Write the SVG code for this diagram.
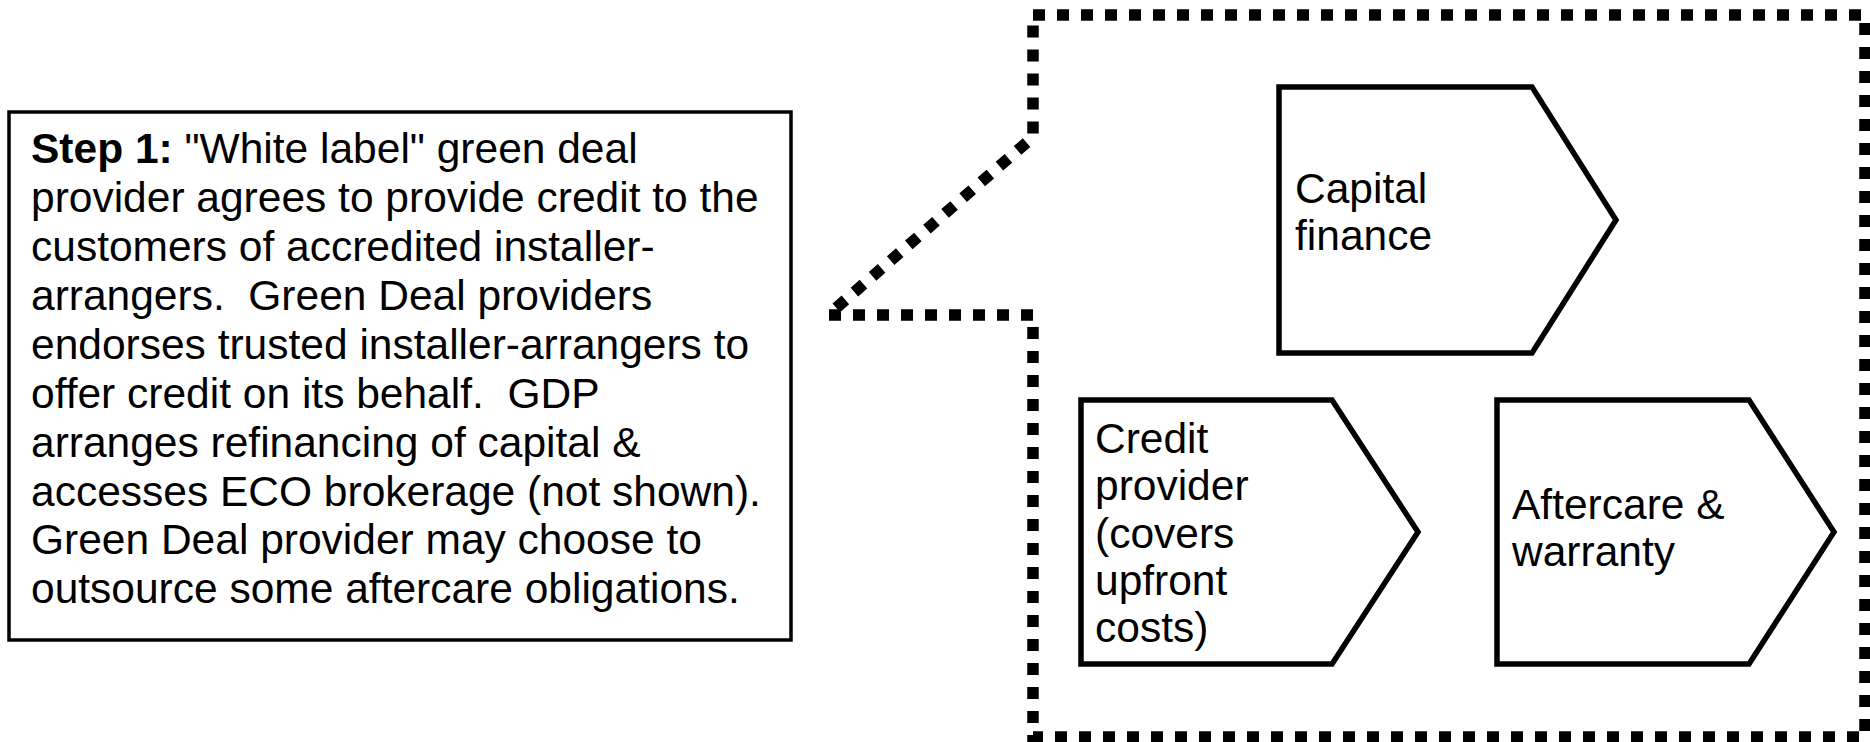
<svg xmlns="http://www.w3.org/2000/svg" width="1870" height="742" viewBox="0 0 1870 742">
<style>
text{font-family:"Liberation Sans",Arial,sans-serif;font-size:42.5px;fill:#000}
.b{font-weight:bold}
.box{fill:#fff;stroke:#000;stroke-width:3.5}
.chev{fill:#fff;stroke:#000;stroke-width:5.5;stroke-linejoin:miter}
.dot{fill:none;stroke:#000;stroke-width:11.5;stroke-dasharray:12 12}
</style>
<rect width="1870" height="742" fill="#fff"/>
<g id="connectors">
<path class="dot" d="M1033,15 L1865,15 L1865,737 L1033,737 L1033,315 L828,315 L1033,137 Z"/>
</g>
<g id="step1">
<rect class="box" x="9" y="112" width="782" height="528"/>
<text x="31" y="163"><tspan class="b">Step 1:</tspan> "White label" green deal</text>
<text x="31" y="212">provider agrees to provide credit to the</text>
<text x="31" y="261">customers of accredited installer-</text>
<text x="31" y="310" xml:space="preserve">arrangers.  Green Deal providers</text>
<text x="31" y="359">endorses trusted installer-arrangers to</text>
<text x="31" y="408" xml:space="preserve">offer credit on its behalf.  GDP</text>
<text x="31" y="457">arranges refinancing of capital &amp;</text>
<text x="31" y="506">accesses ECO brokerage (not shown).</text>
<text x="31" y="554">Green Deal provider may choose to</text>
<text x="31" y="603">outsource some aftercare obligations.</text>
</g>
<g id="capital">
<path class="chev" d="M1279,87 L1532,87 L1616,220 L1532,353 L1279,353 Z"/>
<text x="1295" y="203">Capital</text>
<text x="1295" y="250">finance</text>
</g>
<g id="credit">
<path class="chev" d="M1081,400 L1332,400 L1418,532 L1332,664 L1081,664 Z"/>
<text x="1095" y="453">Credit</text>
<text x="1095" y="500">provider</text>
<text x="1095" y="548">(covers</text>
<text x="1095" y="595">upfront</text>
<text x="1095" y="642">costs)</text>
</g>
<g id="aftercare">
<path class="chev" d="M1497,400 L1749,400 L1834,532 L1749,664 L1497,664 Z"/>
<text x="1512" y="519">Aftercare &amp;</text>
<text x="1512" y="566">warranty</text>
</g>
</svg>
